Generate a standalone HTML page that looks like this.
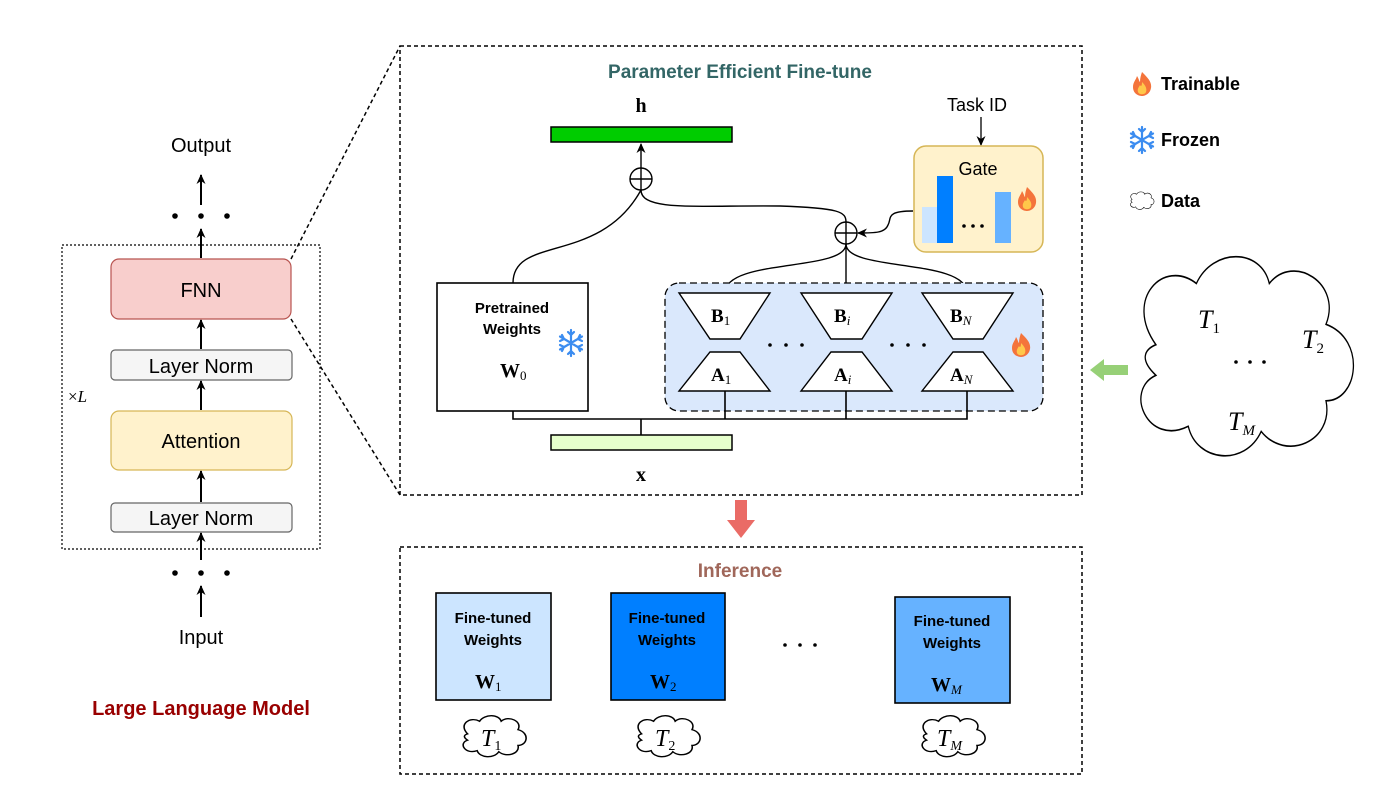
<!DOCTYPE html>
<html><head><meta charset="utf-8"><style>
html,body{margin:0;padding:0;background:#fff}
svg{display:block}
text{font-family:"Liberation Sans",sans-serif}
.m{font-family:"Liberation Serif",serif;font-weight:bold}
.s{font-family:"Liberation Serif",serif;font-size:13px}
.t{font-family:"Liberation Serif",serif;font-style:italic}
</style></head><body>
<svg width="1386" height="789" viewBox="0 0 1386 789" xmlns="http://www.w3.org/2000/svg">
<defs>
<marker id="ar" markerWidth="12" markerHeight="12" refX="9" refY="6" orient="auto" markerUnits="userSpaceOnUse"><path d="M0,1.5 L10,6 L0,10.5 L3,6 z" fill="#000"/></marker>
<g id="flame"><path d="M0,-12 C6,-6 10,-2 9,4 C8,10 3,12 0,12 C-3,12 -9,10 -9,3 C-9,-2 -6,-4 -5,-8 C-3,-5 -3,-3 -2,-2 C-2,-6 -1,-9 0,-12z" fill="#f4743b"/><path d="M0,-2 C4,2 5,5 4,8 C3,11 -3,11 -4,8 C-5,5 -3,3 -2,1 C-1,3 0,2 0,-2z" fill="#ffc84a"/></g>
<g id="snow" stroke="#3b8cf0" stroke-width="2.2" fill="none" stroke-linecap="round"><path d="M0,-13 V13 M-11,-6.5 L11,6.5 M-11,6.5 L11,-6.5 M-3,-11 L0,-8 L3,-11 M-3,11 L0,8 L3,11 M-11,-2 L-7,-4 L-9,-8 M11,2 L7,4 L9,8 M-11,2 L-7,4 L-9,8 M11,-2 L7,-4 L9,-8"/></g>
<g id="cloud"><path d="M-22,-3 C-30,-12 -20,-20 -12,-15 C-8,-22 4,-22 6,-15 C12,-21 24,-15 20,-7 C30,-4 28,8 20,8 C22,16 10,20 4,14 C0,21 -12,20 -14,13 C-24,17 -30,6 -22,3 C-26,0 -25,-2 -22,-3z" fill="#fff" stroke="#000" stroke-width="1.3"/></g>
</defs>

<text x="201" y="152" font-size="20" text-anchor="middle">Output</text>
<g fill="#000"><circle cx="175" cy="216" r="2.8"/><circle cx="201" cy="216" r="2.8"/><circle cx="227" cy="216" r="2.8"/>
<circle cx="175" cy="573" r="2.8"/><circle cx="201" cy="573" r="2.8"/><circle cx="227" cy="573" r="2.8"/></g>
<rect x="62" y="245" width="258" height="304" fill="none" stroke="#000" stroke-width="1.2" stroke-dasharray="2,2"/>
<g stroke="#000" stroke-width="2" fill="none" marker-end="url(#ar)">
<line x1="201" y1="205" x2="201" y2="175"/>
<line x1="201" y1="258" x2="201" y2="229"/>
<line x1="201" y1="349" x2="201" y2="320"/>
<line x1="201" y1="410" x2="201" y2="381"/>
<line x1="201" y1="502" x2="201" y2="471"/>
<line x1="201" y1="560" x2="201" y2="533"/>
<line x1="201" y1="617" x2="201" y2="586"/>
</g>
<rect x="111" y="259" width="180" height="60" rx="8" fill="#f8cecc" stroke="#b85450" stroke-width="1.2"/>
<text x="201" y="297" font-size="20" text-anchor="middle">FNN</text>
<rect x="111" y="350" width="181" height="30" rx="4" fill="#f5f5f5" stroke="#666" stroke-width="1.2"/>
<text x="201" y="373" font-size="20" text-anchor="middle">Layer Norm</text>
<rect x="111" y="411" width="181" height="59" rx="8" fill="#fff2cc" stroke="#d6b656" stroke-width="1.2"/>
<text x="201" y="448" font-size="20" text-anchor="middle">Attention</text>
<rect x="111" y="503" width="181" height="29" rx="4" fill="#f5f5f5" stroke="#666" stroke-width="1.2"/>
<text x="201" y="525" font-size="20" text-anchor="middle">Layer Norm</text>
<text x="68" y="402" font-size="17" class="t" style="font-style:normal">×<tspan font-style="italic">L</tspan></text>
<text x="201" y="644" font-size="20" text-anchor="middle">Input</text>
<text x="201" y="715" font-size="20" font-weight="bold" fill="#990000" text-anchor="middle">Large Language Model</text>

<line x1="291" y1="259" x2="400" y2="46" stroke="#000" stroke-width="1.5" stroke-dasharray="4,3"/>
<line x1="291" y1="319" x2="400" y2="495" stroke="#000" stroke-width="1.5" stroke-dasharray="4,3"/>

<rect x="400" y="46" width="682" height="449" fill="none" stroke="#000" stroke-width="1.5" stroke-dasharray="4,3"/>
<text x="740" y="78" font-size="19" font-weight="bold" fill="#336666" text-anchor="middle">Parameter Efficient Fine-tune</text>
<text x="641" y="112" font-size="20" class="m" text-anchor="middle">h</text>
<rect x="551" y="127" width="181" height="15" fill="#00cc00" stroke="#000" stroke-width="1.5"/>
<text x="977" y="111" font-size="18" text-anchor="middle">Task ID</text>
<line x1="981" y1="117" x2="981" y2="145" stroke="#000" stroke-width="1.3" marker-end="url(#ar)"/>

<rect x="914" y="146" width="129" height="106" rx="12" fill="#fff2cc" stroke="#d6b656" stroke-width="1.5"/>
<text x="978" y="175" font-size="18" text-anchor="middle">Gate</text>
<rect x="922" y="207" width="15" height="36" fill="#cce5ff"/>
<rect x="937" y="176" width="16" height="67" fill="#007fff"/>
<rect x="995" y="192" width="16" height="51" fill="#66b2ff"/>
<g fill="#000"><circle cx="964" cy="226" r="1.8"/><circle cx="973" cy="226" r="1.8"/><circle cx="982" cy="226" r="1.8"/></g>
<use href="#flame" x="1027" y="199"/>

<g stroke="#000" stroke-width="1.4" fill="none">
<path d="M513,283 C513,235 600,265 641,190"/>
<line x1="641" y1="168" x2="641" y2="144" marker-end="url(#ar)"/>
<path d="M641,190 C641,212 700,205 780,206 C840,208 846,212 846,222"/>
<path d="M913,211 C885,211 892,218 888,225 C885,233 875,233 858,233" marker-end="url(#ar)"/>
<path d="M846,244 C846,272 725,258 725,293"/>
<line x1="846" y1="244" x2="846" y2="293"/>
<path d="M846,244 C846,272 967,258 967,293"/>
</g>
<circle cx="641" cy="179" r="11" fill="#fff" stroke="#000" stroke-width="1.4"/>
<path d="M630,179 H652 M641,168 V190" stroke="#000" stroke-width="1.4"/>
<circle cx="846" cy="233" r="11" fill="#fff" stroke="#000" stroke-width="1.4"/>
<path d="M835,233 H857 M846,222 V244" stroke="#000" stroke-width="1.4"/>

<rect x="437" y="283" width="151" height="128" fill="#fff" stroke="#000" stroke-width="1.6"/>
<text x="512" y="313" font-size="15" font-weight="bold" text-anchor="middle">Pretrained</text>
<text x="512" y="334" font-size="15" font-weight="bold" text-anchor="middle">Weights</text>
<text x="500" y="377" font-size="20" class="m">W<tspan class="s" font-weight="normal" dy="3">0</tspan></text>
<use href="#snow" x="571" y="343"/>

<rect x="665" y="283" width="378" height="128" rx="14" fill="#dae8fc" stroke="#000" stroke-width="1.3" stroke-dasharray="7,4"/>
<g fill="#fff" stroke="#000" stroke-width="1.4">
<polygon points="679,293 770,293 740,339 710,339"/>
<polygon points="801,293 892,293 862,339 831,339"/>
<polygon points="922,293 1013,293 983,339 953,339"/>
<polygon points="710,352 740,352 770,391 679,391"/>
<polygon points="831,352 862,352 892,391 801,391"/>
<polygon points="953,352 983,352 1013,391 922,391"/>
</g>
<g font-size="19">
<text x="711" y="322" class="m">B<tspan class="s" font-weight="normal" dy="3">1</tspan></text>
<text x="834" y="322" class="m">B<tspan class="s" font-weight="normal" font-style="italic" dy="3">i</tspan></text>
<text x="950" y="322" class="m">B<tspan class="s" font-weight="normal" font-style="italic" dy="3">N</tspan></text>
<text x="711" y="381" class="m">A<tspan class="s" font-weight="normal" dy="3">1</tspan></text>
<text x="834" y="381" class="m">A<tspan class="s" font-weight="normal" font-style="italic" dy="3">i</tspan></text>
<text x="950" y="381" class="m">A<tspan class="s" font-weight="normal" font-style="italic" dy="3">N</tspan></text>
</g>
<g fill="#000"><circle cx="770" cy="345" r="1.8"/><circle cx="786" cy="345" r="1.8"/><circle cx="802" cy="345" r="1.8"/>
<circle cx="892" cy="345" r="1.8"/><circle cx="908" cy="345" r="1.8"/><circle cx="924" cy="345" r="1.8"/></g>
<use href="#flame" x="1021" y="345"/>

<g stroke="#000" stroke-width="1.6" fill="none">
<path d="M513,411 V419 H967 V391 M725,391 V419 M846,391 V419 M641,419 V435"/>
</g>
<rect x="551" y="435" width="181" height="15" fill="#e6ffcc" stroke="#000" stroke-width="1.5"/>
<text x="641" y="481" font-size="20" class="m" text-anchor="middle">x</text>

<use href="#flame" x="1142" y="84"/>
<text x="1161" y="90" font-size="18" font-weight="bold">Trainable</text>
<use href="#snow" x="1142" y="140"/>
<text x="1161" y="146" font-size="18" font-weight="bold">Frozen</text>
<g transform="translate(1142,201) scale(0.45)"><use href="#cloud"/></g>
<text x="1161" y="207" font-size="18" font-weight="bold">Data</text>

<g transform="translate(1245,360) scale(4.05,5.1)"><path d="M-22,-3 C-30,-12 -20,-20 -12,-15 C-8,-22 4,-22 6,-15 C12,-21 24,-15 20,-7 C30,-4 28,8 20,8 C22,16 10,20 4,14 C0,21 -12,20 -14,13 C-24,17 -30,6 -22,3 C-26,0 -25,-2 -22,-3z" fill="#fff" stroke="#000" stroke-width="0.32"/></g>
<text x="1198" y="328" font-size="26" class="t">T<tspan font-size="15" font-style="normal" dy="5">1</tspan></text>
<text x="1302" y="348" font-size="26" class="t">T<tspan font-size="15" font-style="normal" dy="5">2</tspan></text>
<g fill="#000"><circle cx="1236" cy="362" r="1.8"/><circle cx="1250" cy="362" r="1.8"/><circle cx="1264" cy="362" r="1.8"/></g>
<text x="1228" y="430" font-size="26" class="t">T<tspan font-size="15" dy="5">M</tspan></text>
<polygon points="1090,370 1104,359 1104,365 1128,365 1128,375 1104,375 1104,381" fill="#97d077"/>

<polygon points="735,500 747,500 747,520 755,520 741,538 727,520 735,520" fill="#ea6b66"/>

<rect x="400" y="547" width="682" height="227" fill="none" stroke="#000" stroke-width="1.5" stroke-dasharray="4,3"/>
<text x="740" y="577" font-size="19" font-weight="bold" fill="#a0675a" text-anchor="middle">Inference</text>
<rect x="436" y="593" width="115" height="107" fill="#cce5ff" stroke="#000" stroke-width="1.6"/>
<rect x="611" y="593" width="114" height="107" fill="#007fff" stroke="#000" stroke-width="1.6"/>
<rect x="895" y="597" width="115" height="106" fill="#66b2ff" stroke="#000" stroke-width="1.6"/>
<g font-size="15" font-weight="bold" text-anchor="middle">
<text x="493" y="623">Fine-tuned</text><text x="493" y="645">Weights</text>
<text x="667" y="623">Fine-tuned</text><text x="667" y="645">Weights</text>
<text x="952" y="626">Fine-tuned</text><text x="952" y="648">Weights</text>
</g>
<text x="475" y="688" font-size="20" class="m">W<tspan class="s" font-weight="normal" dy="3">1</tspan></text>
<text x="650" y="688" font-size="20" class="m">W<tspan class="s" font-weight="normal" dy="3">2</tspan></text>
<text x="931" y="691" font-size="20" class="m">W<tspan class="s" font-weight="normal" font-style="italic" dy="3">M</tspan></text>
<g fill="#000"><circle cx="785" cy="645" r="1.8"/><circle cx="800" cy="645" r="1.8"/><circle cx="815" cy="645" r="1.8"/></g>
<g transform="translate(494,737) scale(1.2,1.05)"><use href="#cloud"/></g>
<g transform="translate(668,737) scale(1.2,1.05)"><use href="#cloud"/></g>
<g transform="translate(953,737) scale(1.2,1.05)"><use href="#cloud"/></g>
<text x="481" y="746" font-size="24" class="t">T<tspan font-size="14" font-style="normal" dy="4">1</tspan></text>
<text x="655" y="746" font-size="24" class="t">T<tspan font-size="14" font-style="normal" dy="4">2</tspan></text>
<text x="937" y="746" font-size="24" class="t">T<tspan font-size="14" dy="4">M</tspan></text>
</svg>
</body></html>
